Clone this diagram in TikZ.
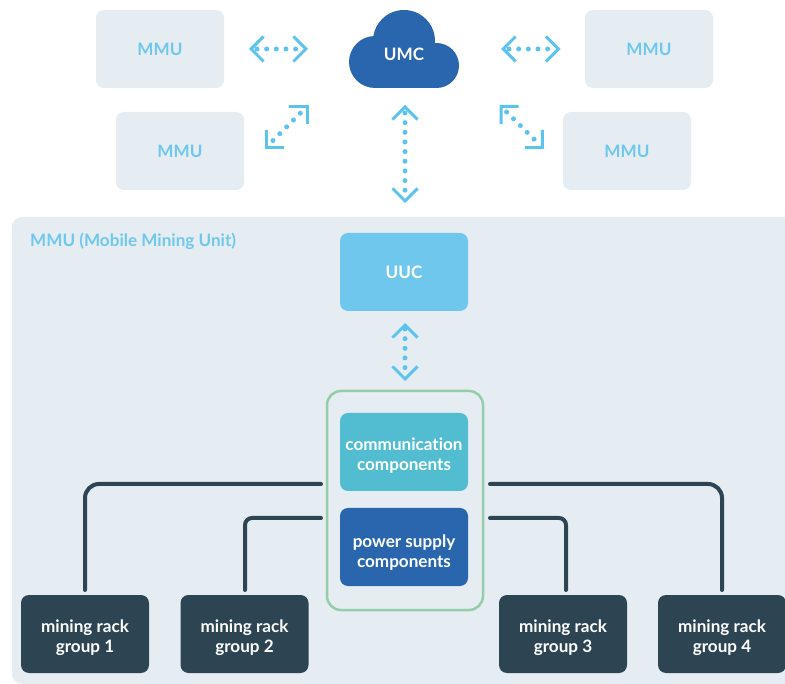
\documentclass[tikz,border=0pt]{standalone}
\usepackage{fontspec}
\setmainfont{Lato}[BoldFont={Lato Bold},Ligatures=NoCommon]
\usetikzlibrary{arrows.meta,positioning}
\definecolor{tile}{HTML}{E5EDF3}
\definecolor{sky}{HTML}{70C7EE}
\definecolor{arrowblue}{HTML}{5CC2EE}
\definecolor{teal}{HTML}{52BCD1}
\definecolor{royal}{HTML}{2A66AD}
\definecolor{slate}{HTML}{2D4452}
\definecolor{mint}{HTML}{94CDA7}
\newcommand\topgap[1]{\rule{0pt}{#1pt}}
\tikzset{
  x=1pt,y=-1pt,
  labelfont/.style={font=\fontsize{17.1}{20}\selectfont\bfseries},
  box/.style={rounded corners=8pt,minimum width=128pt,minimum height=78pt,inner sep=0pt,align=center,labelfont,text=white},
  mmubox/.style={box,fill=tile,text=sky},
  uuc/.style={box,fill=sky},
  comm/.style={box,fill=teal},
  power/.style={box,fill=royal},
  rack/.style={box,fill=slate},
  linkdots/.style={draw=arrowblue,line width=5pt,line cap=round,dash pattern=on 0pt off 9.65pt},
  linktips/.style={draw=arrowblue,line width=3pt,dash pattern=on 0pt off 2000pt,
    {Straight Barb[length=12.5pt,width=25pt,line width=3pt,line cap=butt]}-{Straight Barb[length=12.5pt,width=25pt,line width=3pt,line cap=butt]}},
  wire/.style={draw=slate,line width=4pt,line cap=round},
}
\begin{document}
\begin{tikzpicture}
\useasboundingbox (0,0) rectangle (785,684);
\fill[white] (0,0) rectangle (785,684);
% panel
\fill[tile] (785,684) [rounded corners=10pt] -- (12,684) -- (12,217) [sharp corners] -- (785,217) -- cycle;
\node[anchor=west,labelfont,text=sky,inner sep=0pt] (paneltitle) at (30,241) {MMU (Mobile Mining Unit)};
% top units
\node[mmubox] (m1) at (160,49) {MMU};
\node[mmubox] (m2) at (180,151) {MMU};
\node[mmubox] (m3) at (649,49) {MMU};
\node[mmubox] (m4) at (627,151) {MMU};
% cloud
\fill[royal] (404,41) circle[radius=31];
\fill[royal] (375,62) circle[radius=26];
\fill[royal] (436.5,65.5) circle[radius=22.5];
\fill[royal] (375,60) rectangle (437,88);
\node[labelfont,text=white,inner sep=0pt] (umc) at (404,54) {UMC};
% inner nodes
\node[uuc] (uu) at (404,272) {UUC};
\node[draw=mint,line width=2.5pt,rounded corners=14pt,minimum width=156pt,minimum height=219pt,inner sep=0pt] (grp) at (405,500.5) {};
\node[comm] (co) at (404,452) {\topgap{20}communication\\components};
\node[power] (po) at (404,547) {\topgap{24}power supply\\components};
\node[rack] (r1) at (85,634) {\topgap{20}mining rack\\group 1};
\node[rack] (r2) at (244.5,634) {\topgap{20}mining rack\\group 2};
\node[rack] (r3) at (563,634) {\topgap{20}mining rack\\group 3};
\node[rack] (r4) at (722,634) {\topgap{20}mining rack\\group 4};
% link ends
\coordinate (a1) at (249,49); \coordinate (a2) at (308,49);
\coordinate (b1) at (501,49); \coordinate (b2) at (560.5,49);
\coordinate (c1) at (264.5,149); \coordinate (c2) at (308.5,105);
\coordinate (d1) at (499.5,105); \coordinate (d2) at (544,149);
\coordinate (e1) at (405,105); \coordinate (e2) at (405,203);
\coordinate (f1) at (405,323); \coordinate (f2) at (405,381);
\draw[linkdots,shorten <=8pt,shorten >=12pt] (a1) -- (a2);
\draw[linktips] (a1) -- (a2);
\draw[linkdots,shorten <=8pt,shorten >=12pt] (b1) -- (b2);
\draw[linktips] (b1) -- (b2);
\draw[linkdots,shorten <=12pt,shorten >=10pt] (c1) -- (c2);
\draw[linktips] (c1) -- (c2);
\draw[linkdots,shorten <=10pt,shorten >=12pt] (d1) -- (d2);
\draw[linktips] (d1) -- (d2);
\draw[linkdots,shorten <=8pt,shorten >=12pt] (e1) -- (e2);
\draw[linktips] (e1) -- (e2);
\draw[linkdots,shorten <=6pt,shorten >=12pt] (f1) -- (f2);
\draw[linktips] (f1) -- (f2);
% wires
\coordinate (w1) at (85,590); \coordinate (g1) at (321,484);
\coordinate (w2) at (245,590); \coordinate (g2) at (321,518);
\coordinate (w3) at (566,590); \coordinate (g3) at (490,518);
\coordinate (w4) at (722,590); \coordinate (g4) at (490,484);
\draw[wire,rounded corners=14pt] (w1) |- (g1);
\draw[wire,rounded corners=7pt] (w2) |- (g2);
\draw[wire,rounded corners=7pt] (w3) |- (g3);
\draw[wire,rounded corners=14pt] (w4) |- (g4);
\end{tikzpicture}
\end{document}
